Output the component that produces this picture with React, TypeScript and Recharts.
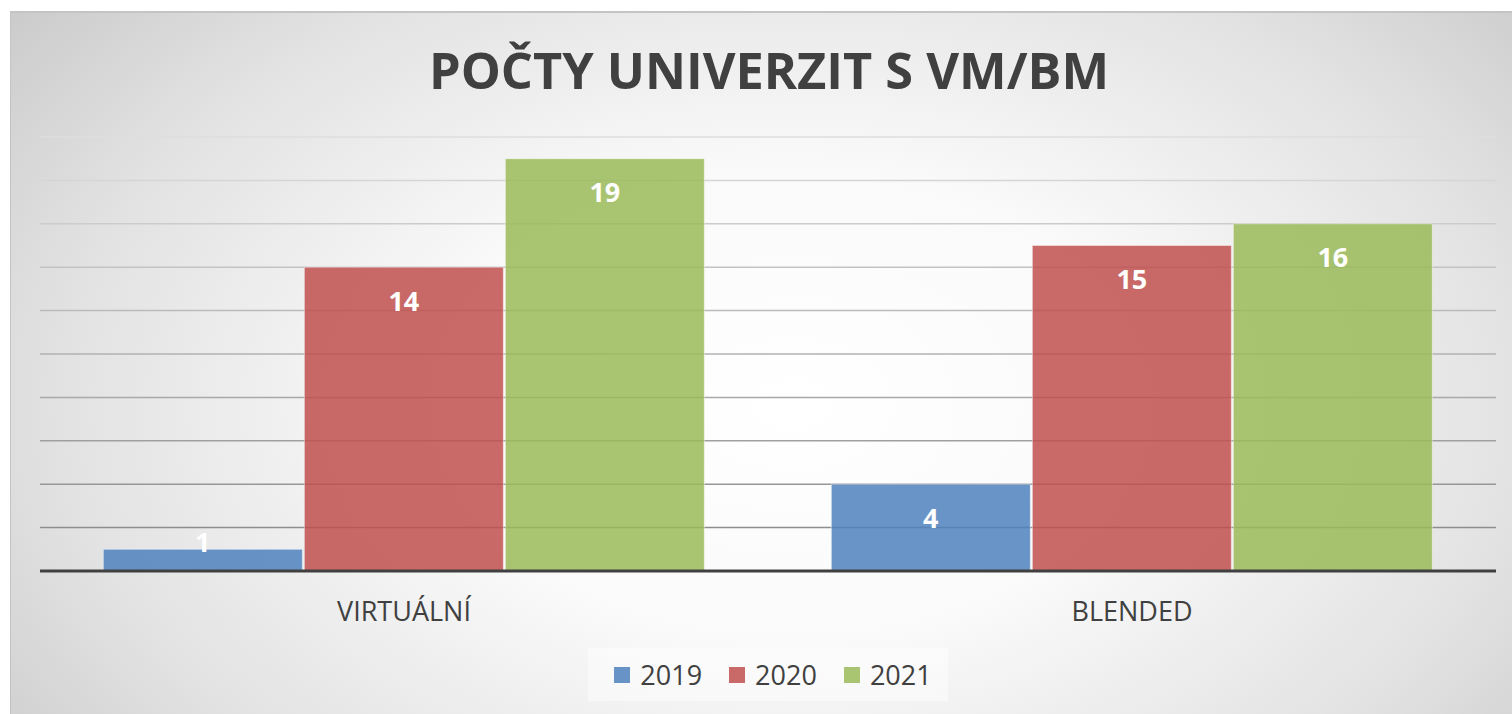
import { BarChart, Bar, XAxis, YAxis, CartesianGrid, Legend, LabelList } from "recharts";

const categories = ["VIRTUÁLNÍ", "BLENDED"];
const values2019 = [1, 4];
const values2020 = [14, 15];
const values2021 = [19, 16];
const yTicks = [0, 2, 4, 6, 8, 10, 12, 14, 16, 18, 20];

const series = [
  { key: "y2019", name: "2019", color: "#4f81bd" },
  { key: "y2020", name: "2020", color: "#c0504d" },
  { key: "y2021", name: "2021", color: "#9bbb59" },
];

const data = categories.map((c, i) => ({
  category: c,
  y2019: values2019[i],
  y2020: values2020[i],
  y2021: values2021[i],
}));

const font = "'Open Sans', 'DejaVu Sans', sans-serif";

function ValueLabel(props: any) {
  const { x, y, width, height, value } = props;
  const cy = Math.min(y + 33, y + height - 30);
  return (
    <text
      x={x + width / 2}
      y={cy}
      textAnchor="middle"
      dominantBaseline="central"
      fill="#ffffff"
      fontFamily={font}
      fontWeight={700}
      fontSize={27}
    >
      {value}
    </text>
  );
}

function LegendBox() {
  return (
    <div
      style={{
        display: "inline-flex",
        alignItems: "center",
        gap: 27,
        padding: "8px 16px 8px 26px",
        background: "rgba(255,255,255,0.45)",
        fontFamily: font,
        fontSize: 27,
        color: "#404040",
      }}
    >
      {series.map((s) => (
        <span key={s.key} style={{ display: "inline-flex", alignItems: "center", gap: 10 }}>
          <span
            style={{
              width: 16,
              height: 16,
              background: s.color,
              opacity: 0.85,
              display: "inline-block",
            }}
          />
          {s.name}
        </span>
      ))}
    </div>
  );
}

export default function App() {
  return (
    <div style={{ position: "absolute", left: 0, top: 0, width: 1512, height: 714, background: "#fff" }}>
      <div
        style={{
          position: "absolute",
          left: 10,
          top: 11,
          width: 1502,
          height: 703,
          borderTop: "2px solid #c4c4c4",
          borderLeft: "1px solid #c4c4c4",
          boxSizing: "border-box",
          background:
            "radial-gradient(ellipse 68% 95% at 52% 56%, #ffffff 0%, #fafafa 35%, #e2e2e2 72%, #c8c8c8 100%)",
        }}
      >
        <svg width={1502} height={110} style={{ position: "absolute", left: 0, top: 0 }}>
          <text
            x={758}
            y={76}
            textAnchor="middle"
            fontFamily={font}
            fontWeight={700}
            fontSize={50}
            fill="#404040"
            textLength={680}
            lengthAdjust="spacingAndGlyphs"
          >
            POČTY UNIVERZIT S VM/BM
          </text>
        </svg>
        <div style={{ position: "absolute", left: -1, top: -2 }}>
          <BarChart
            width={1502}
            height={703}
            data={data}
            margin={{ top: 126, right: 16, bottom: 113, left: 30 }}
            barCategoryGap="8.7%"
            barGap={2}
          >
            <defs>
              <linearGradient id="gridGrad" x1="0" y1="126" x2="0" y2="560" gradientUnits="userSpaceOnUse">
                <stop offset="0%" stopColor="#dedede" />
                <stop offset="100%" stopColor="#858585" />
              </linearGradient>
            </defs>
            <CartesianGrid vertical={false} stroke="url(#gridGrad)" strokeWidth={1.5} />
            <YAxis hide domain={[0, 20]} ticks={yTicks} />
            <XAxis
              dataKey="category"
              axisLine={{ stroke: "#404040", strokeWidth: 3 }}
              tickLine={false}
              tickMargin={25}
              tick={{ fill: "#404040", fontSize: 27, fontFamily: font }}
            />
            <Legend
              verticalAlign="middle"
              align="center"
              content={() => <LegendBox />}
              wrapperStyle={{ top: 637, left: 7, width: 1502, textAlign: "center" }}
            />
            {series.map((s) => (
              <Bar
                key={s.key}
                dataKey={s.key}
                name={s.name}
                fill={s.color}
                fillOpacity={0.85}
                stroke="rgba(255,255,255,0.45)"
                strokeWidth={1}
                isAnimationActive={false}
              >
                <LabelList dataKey={s.key} content={ValueLabel} />
              </Bar>
            ))}
          </BarChart>
        </div>
      </div>
    </div>
  );
}
